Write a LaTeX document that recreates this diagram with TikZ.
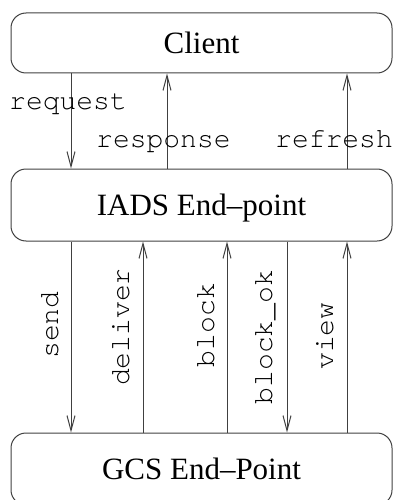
\documentclass[tikz,border=0pt]{standalone}
\usepackage{fontspec}
\setmainfont{Liberation Serif}
\setmonofont{TeX Gyre Cursor}
\usetikzlibrary{arrows.meta}

\tikzset{
  endbox/.style={draw=black!75, line width=1pt, rounded corners=15pt,
    minimum width=381pt, inner sep=0pt, text depth=0pt,
    font=\fontsize{31}{36}\selectfont},
  msg/.style={draw=black!75, line width=1pt,
    -{Straight Barb[length=15pt,width=8pt]}},
  msglabel/.style={inner sep=0pt, font=\ttfamily\fontsize{28}{32}\selectfont},
}

\begin{document}
\begin{tikzpicture}[x=1pt,y=1pt,yscale=-1,xscale=1]
\useasboundingbox (0,0) rectangle (395,500);

%Shape: End-point boxes
\node [endbox, minimum height=60pt] (client) at (201.5,43) {Client};
\node [endbox, minimum height=72pt] (iads) at (201.5,205) {IADS End--point};
\node [endbox, minimum height=72pt] (gcs) at (201.5,469) {GCS End--Point};

%Coordinates: arrow columns
\coordinate (xrequest) at (71,0);
\coordinate (xresponse) at (167,0);
\coordinate (xrefresh) at (347,0);
\coordinate (xsend) at (71,0);
\coordinate (xdeliver) at (143,0);
\coordinate (xblock) at (227,0);
\coordinate (xblockok) at (287,0);
\coordinate (xview) at (347,0);

%Straight Lines: Client <-> IADS
\draw [msg] (client.south -| xrequest) -- (iads.north -| xrequest);
\draw [msg] (iads.north -| xresponse) -- (client.south -| xresponse);
\draw [msg] (iads.north -| xrefresh) -- (client.south -| xrefresh);

%Straight Lines: IADS <-> GCS
\draw [msg] (iads.south -| xsend) -- (gcs.north -| xsend);
\draw [msg] (gcs.north -| xdeliver) -- (iads.south -| xdeliver);
\draw [msg] (gcs.north -| xblock) -- (iads.south -| xblock);
\draw [msg] (iads.south -| xblockok) -- (gcs.north -| xblockok);
\draw [msg] (gcs.north -| xview) -- (iads.south -| xview);

% Text Node
\node [msglabel, anchor=base west] (lrequest) at (9,110) {request};
% Text Node
\node [msglabel, anchor=base west] (lresponse) at (96,147) {response};
% Text Node
\node [msglabel, anchor=base west] (lrefresh) at (275,147) {refresh};
% Text Node
\node [msglabel, anchor=base, rotate=90] (lsend) at (58,325) {send};
% Text Node
\node [msglabel, anchor=base, rotate=90] (ldeliver) at (129,327) {deliver};
% Text Node
\node [msglabel, anchor=base, rotate=90] (lblock) at (214,325) {block};
% Text Node
\node [msglabel, anchor=base, rotate=90] (lblockok) at (272,337) {block\_ok};
% Text Node
\node [msglabel, anchor=base, rotate=90] (lview) at (333,336) {view};

\end{tikzpicture}
\end{document}
